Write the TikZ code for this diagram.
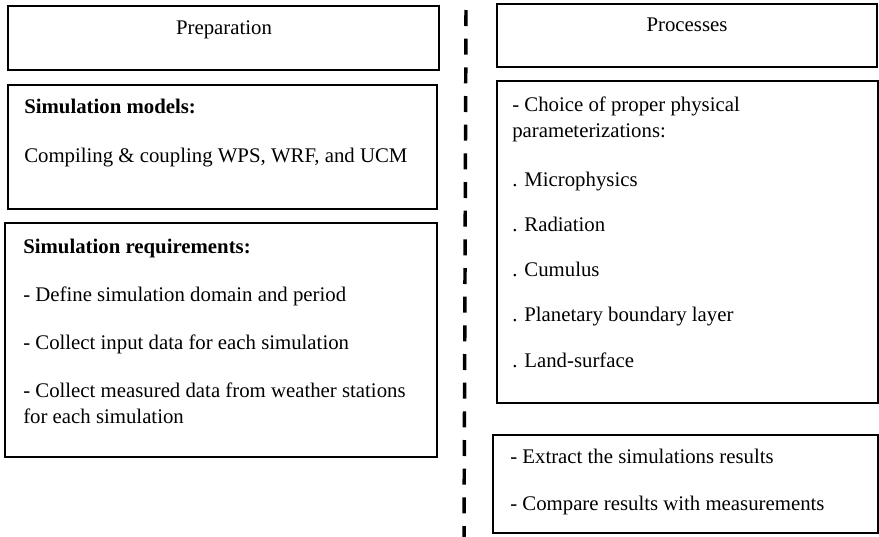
\documentclass[tikz,border=0pt]{standalone}
\usepackage{fontspec}
\setmainfont{Liberation Serif}
\usetikzlibrary{fit}
\tikzset{
  box/.style={draw,line width=2pt,inner sep=0pt},
  txt/.style={inner sep=0pt,anchor=base west,font=\fontsize{15.6}{19.5}\selectfont},
  hd/.style={txt,font=\fontsize{15.6}{19.5}\selectfont\bfseries},
  sep/.style={line width=2.6pt,dash pattern=on 12pt off 9.5pt}
}
\begin{document}
\begin{tikzpicture}[x=0.75pt,y=-0.75pt]
\useasboundingbox (0,0) rectangle (879,536);

\node[box,fit={(8,6) (439,70)}] (prep) {};
\node[box,fit={(8,85) (437,209)}] (models) {};
\node[box,fit={(5,223) (437,457)}] (req) {};
\node[box,fit={(497,4) (877,67)}] (proc) {};
\node[box,fit={(497,81) (878,403)}] (params) {};
\node[box,fit={(493,435) (878,533)}] (results) {};

\coordinate (septop) at (466,10);
\coordinate (sepbot) at (464,540);
\draw[sep] (septop) -- (sepbot);

\node[txt,anchor=base] (preplbl) at (224,34) {Preparation};
\node[txt,anchor=base] (proclbl) at (687,31) {Processes};

\node[hd] (modhd) at (24,113) {Simulation models:};
\node[txt] (modtxt) at (24,162) {Compiling \& coupling WPS, WRF, and UCM};

\node[hd] (reqhd) at (23,253) {Simulation requirements:};
\node[txt] (req1) at (23,301) {- Define simulation domain and period};
\node[txt] (req2) at (23,349) {- Collect input data for each simulation};
\node[txt,align=left] (req3) at (23,423) {- Collect measured data from weather stations\\for each simulation};

\node[txt,align=left] (parhd) at (512,137) {- Choice of proper physical\\parameterizations:};
\foreach \t [count=\i] in {Microphysics,Radiation,Cumulus,Planetary boundary layer,Land-surface}
  \node[txt] (par\i) at (512,186+45.3*\i-45.3) {. \t};

\node[txt] (res1) at (510,463) {- Extract the simulations results};
\node[txt] (res2) at (510,510) {- Compare results with measurements};
\end{tikzpicture}
\end{document}
